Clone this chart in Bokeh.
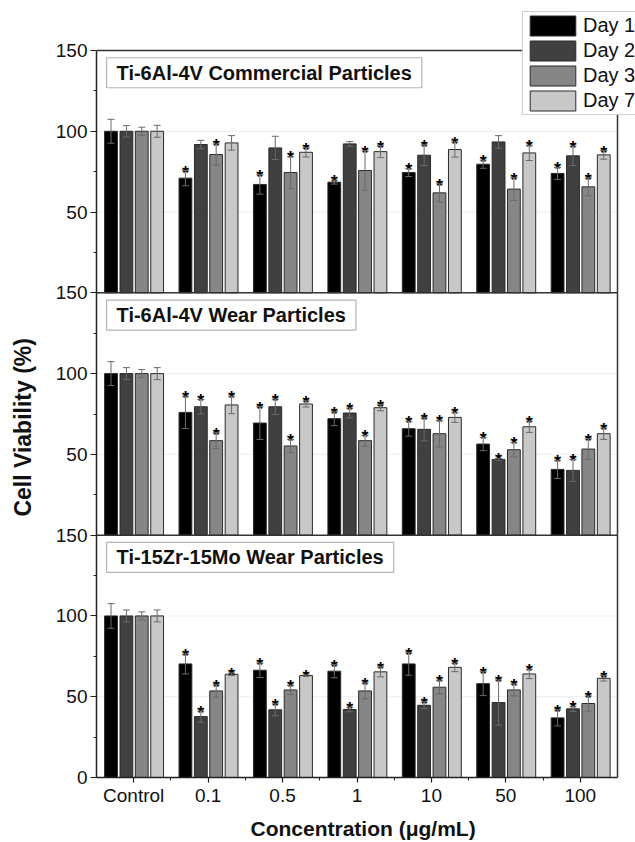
from bokeh.plotting import figure
from bokeh.models import (ColumnDataSource, FixedTicker, Label, Whisker,
                          TeeHead, Legend, LegendItem)
from bokeh.core.properties import value
from bokeh.embed import file_html
from bokeh.resources import INLINE

# ---------------- data ----------------
categories = ["Control", "0.1", "0.5", "1", "10", "50", "100"]
days = ["Day 1", "Day 2", "Day 3", "Day 7"]
panel_titles = ["Ti-6Al-4V Commercial Particles",
                "Ti-6Al-4V Wear Particles",
                "Ti-15Zr-15Mo Wear Particles"]
y_tick_values = [0, 50, 100, 150]
y_minor_values = [25, 75, 125]

# Panel 1: Ti-6Al-4V commercial particles (rows = Day 1, 2, 3, 7)
commercial_mean = [
    [100, 71.0, 67.1, 68.5, 74.5, 79.6, 73.9],
    [100, 91.8, 89.7, 92.2, 85.2, 93.4, 84.8],
    [100, 85.6, 74.5, 75.7, 61.9, 64.2, 65.6],
    [100, 92.8, 87.0, 87.4, 88.7, 86.6, 85.4],
]
commercial_err = [
    [7.4, 4.7, 6.0, 1.2, 2.5, 2.5, 3.7],
    [3.5, 2.6, 7.2, 1.4, 6.4, 3.9, 6.0],
    [2.5, 6.6, 9.9, 12.2, 5.6, 7.0, 5.6],
    [3.7, 4.5, 2.9, 3.7, 4.7, 4.7, 2.7],
]
commercial_star = [
    [0, 1, 1, 1, 1, 1, 1],
    [0, 0, 0, 0, 1, 0, 1],
    [0, 1, 1, 1, 1, 1, 1],
    [0, 0, 1, 1, 1, 1, 1],
]

# Panel 2: Ti-6Al-4V wear particles
ti64wear_mean = [
    [100, 76.0, 69.4, 72.1, 65.9, 56.4, 40.7],
    [100, 79.5, 79.5, 75.6, 65.5, 46.9, 40.1],
    [100, 58.5, 55.2, 58.5, 62.8, 52.9, 53.3],
    [100, 80.6, 81.2, 78.9, 72.9, 67.1, 62.8],
]
ti64wear_err = [
    [7.4, 10.0, 10.1, 4.3, 4.6, 4.1, 5.6],
    [3.7, 4.5, 4.8, 3.1, 7.2, 0.6, 6.8],
    [2.5, 5.0, 4.1, 3.3, 8.3, 4.5, 6.4],
    [3.7, 5.4, 1.9, 1.9, 3.1, 3.5, 3.5],
]
ti64wear_star = [
    [0, 1, 1, 1, 1, 1, 1],
    [0, 1, 1, 1, 1, 1, 1],
    [0, 1, 1, 1, 1, 1, 1],
    [0, 1, 1, 1, 1, 1, 1],
]

# Panel 3: Ti-15Zr-15Mo wear particles
tizrmo_mean = [
    [100, 70.3, 66.4, 65.8, 70.3, 58.1, 36.9],
    [100, 37.7, 41.9, 42.1, 44.7, 46.4, 42.5],
    [100, 53.6, 54.2, 53.6, 55.9, 54.2, 45.8],
    [100, 63.9, 63.1, 65.4, 68.2, 64.1, 61.4],
]
tizrmo_err = [
    [7.6, 6.2, 4.5, 4.1, 7.0, 7.4, 5.0],
    [3.7, 3.5, 3.7, 1.4, 2.1, 14.0, 1.6],
    [2.5, 3.9, 2.9, 4.9, 4.3, 3.7, 4.7],
    [3.7, 0.8, 0.4, 3.1, 2.7, 2.9, 1.7],
]
tizrmo_star = [
    [0, 1, 1, 1, 1, 1, 1],
    [0, 1, 1, 1, 1, 1, 1],
    [0, 1, 1, 1, 1, 1, 1],
    [0, 1, 1, 1, 1, 1, 1],
]

panels = [
    (commercial_mean, commercial_err, commercial_star),
    (ti64wear_mean, ti64wear_err, ti64wear_star),
    (tizrmo_mean, tizrmo_err, tizrmo_star),
]

# ---------------- layout / style ----------------
FONT = "Liberation Sans"
colors = ["#000000", "#404040", "#868686", "#c8c8c8"]
day_shift = [-0.305, -0.098, 0.108, 0.315]
bar_w = 0.172
span = 150
n_panels = len(panels)
n_cat = len(categories)
y_top = span * n_panels

W, H = 635, 842
LEFT, BOTTOM = 96, 65
PANEL_RIGHT_PX = 617   # right edge of the panels
PANEL_TOP_PX = 50      # top edge of the panels
frame_w = W - LEFT
frame_h = H - BOTTOM
x_end = n_cat * frame_w / (PANEL_RIGHT_PX - LEFT)
y_end = y_top * frame_h / (frame_h - PANEL_TOP_PX)

p = figure(width=W, height=H,
           x_range=(0, x_end), y_range=(0, y_end),
           output_backend="svg", toolbar_location=None,
           min_border_left=LEFT, min_border_right=0,
           min_border_top=0, min_border_bottom=BOTTOM)

p.background_fill_color = "white"
p.border_fill_color = "white"
p.outline_line_color = None
p.xgrid.visible = False
p.ygrid.visible = False

# faint horizontal grid lines inside each panel
gy = []
for i in range(n_panels):
    off = i * span
    for v in y_tick_values[1:-1]:
        gy.append(off + v)
p.segment(x0=[0] * len(gy), x1=[n_cat] * len(gy), y0=gy, y1=gy,
          line_color="#ececec", line_width=1)

renderers = []
for j, day in enumerate(days):
    xs, bottoms, tops, uppers, lowers = [], [], [], [], []
    sxs, sys_ = [], []
    for i, (mean, err, star) in enumerate(panels):
        off = (n_panels - 1 - i) * span
        for k in range(n_cat):
            x = k + 0.5 + day_shift[j]
            m = mean[j][k]
            e = err[j][k]
            xs.append(x)
            bottoms.append(off)
            tops.append(off + m)
            uppers.append(off + m + e)
            lowers.append(off + m - e)
            if star[j][k]:
                sxs.append(x)
                sys_.append(off + m + e)
    src = ColumnDataSource(dict(x=xs, bottom=bottoms, top=tops,
                                upper=uppers, lower=lowers))
    r = p.vbar(x="x", bottom="bottom", top="top", width=bar_w, source=src,
               fill_color=colors[j], line_color="#2a2a2a", line_width=1)
    renderers.append(r)
    wh = Whisker(base="x", upper="upper", lower="lower", source=src,
                 line_color="#6a6a6a", line_width=1, level="annotation",
                 upper_head=TeeHead(size=7, line_color="#6a6a6a", line_width=1),
                 lower_head=TeeHead(size=7, line_color="#6a6a6a", line_width=1))
    p.add_layout(wh)
    p.text(x=sxs, y=sys_, text=["*"] * len(sxs),
           text_font=value(FONT), text_font_style="bold",
           text_font_size="18px", text_align="center",
           text_baseline="alphabetic", y_offset=2, text_color="black")

# panel frame: top, right and separators between panels
fx0, fx1, fy0, fy1 = [], [], [], []
for i in range(1, n_panels + 1):
    fx0.append(0); fx1.append(n_cat); fy0.append(i * span); fy1.append(i * span)
fx0.append(n_cat); fx1.append(n_cat); fy0.append(0); fy1.append(y_top)
p.segment(x0=fx0, x1=fx1, y0=fy0, y1=fy1, line_color="#333333", line_width=1.5)

# panel titles
for i, t in enumerate(panel_titles):
    off = (n_panels - 1 - i) * span
    p.add_layout(Label(x=0.135, y=off + 145.5, text=t,
                       text_font=FONT, text_font_style="bold",
                       text_font_size="20px", text_color="#111111",
                       text_align="left", text_baseline="top",
                       padding=dict(x=10, y=4), border_line_color="#b4b4b4",
                       border_line_width=1.2, background_fill_color="white"))

# legend
legend = Legend(items=[LegendItem(label=d, renderers=[r])
                       for d, r in zip(days, renderers)],
                location=(426, 662), orientation="vertical",
                glyph_width=57, glyph_height=25, spacing=0, padding=1,
                label_standoff=2, label_text_font=FONT,
                label_text_font_size="20px", label_text_color="#111111",
                border_line_color="#a0a0a0", border_line_width=1.2,
                background_fill_color="white", background_fill_alpha=1.0,
                margin=0)
p.add_layout(legend)

# x axis
x_ticks = [k + 0.5 for k in range(n_cat)]
p.xaxis.ticker = FixedTicker(ticks=x_ticks, minor_ticks=list(range(1, n_cat)))
p.xaxis.major_label_overrides = {k + 0.5: c for k, c in enumerate(categories)}
p.xaxis.axis_label = "Concentration (\u03bcg/mL)\u00a0"
p.xaxis.bounds = (0, n_cat)

# y axis
y_major, y_minor, y_over = [], [], {}
for i in range(n_panels):           # top panel first, lower panels overwrite
    off = (n_panels - 1 - i) * span
    for v in y_tick_values:
        y_major.append(float(off + v))
        y_over[float(off + v)] = str(v)
    for v in y_minor_values:
        y_minor.append(float(off + v))
y_major = sorted(set(y_major))
p.yaxis.ticker = FixedTicker(ticks=y_major, minor_ticks=sorted(y_minor))
p.yaxis.major_label_overrides = y_over
p.yaxis.bounds = (0, y_top)
# trailing no-break spaces centre the title on the panels rather than the frame
p.yaxis.axis_label = "Cell Viability (%)" + "\u00a0" * 12

for ax in (p.xaxis[0], p.yaxis[0]):
    ax.axis_line_color = "#222222"
    ax.axis_line_width = 1.5
    ax.major_tick_line_color = "#222222"
    ax.minor_tick_line_color = "#222222"
    ax.major_tick_line_width = 1.2
    ax.minor_tick_line_width = 1
    ax.major_tick_in = 0
    ax.minor_tick_in = 0
    ax.minor_tick_out = 3
    ax.major_label_text_font = FONT
    ax.major_label_text_font_size = "19px"
    ax.major_label_text_color = "#111111"
    ax.axis_label_text_font = FONT
    ax.axis_label_text_font_style = "bold"
    ax.axis_label_text_color = "#111111"

p.xaxis.major_tick_out = 5
p.xaxis.major_label_standoff = 2
p.xaxis.axis_label_standoff = 8
p.xaxis.axis_label_text_font_size = "21px"
p.yaxis.major_tick_out = 6
p.yaxis.major_label_standoff = 3
p.yaxis.axis_label_standoff = 17
p.yaxis.axis_label_text_font_size = "23px"

open("out.html", "w").write(file_html(p, INLINE))
